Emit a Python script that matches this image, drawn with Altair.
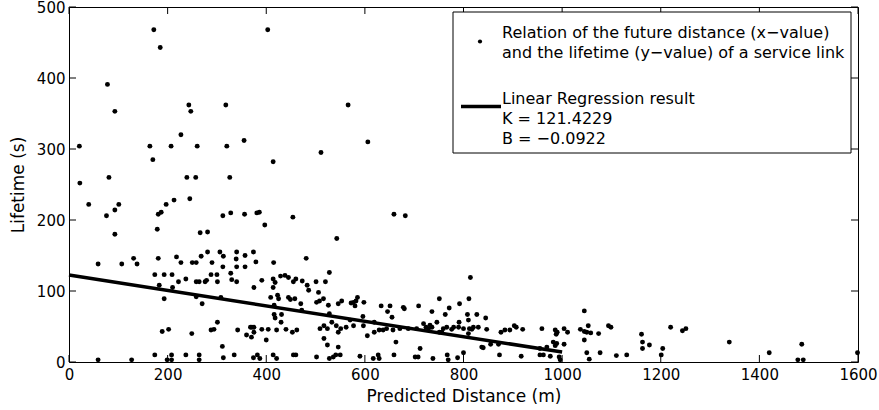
import altair as alt
import pandas as pd

# ---------------- data ----------------
# upper scatter (lifetime > 160 s)
dist_upper = [172,185,403,78,93,243,247,318,566,227,355,606,21,164,207,260,320,511,170,414,
              81,239,257,326,22,40,76,93,101,93,179,181,187,197,213,245,312,328,356,381,
              386,397,454,543,659,682,266,281]
life_upper = [468,443,468,391,353,362,353,362,362,320,312,310,304,304,304,304,304,295,285,282,
              260,260,260,260,252,222,206,214,222,180,187,208,211,222,228,230,206,210,208,210,
              211,193,204,174,208,206,182,183]

# 100 - 160 s band
dist_mid = [59,107,131,138,181,218,227,250,258,268,281,290,306,313,312,340,339,340,357,357,
            374,379,415,481,328,330,340,174,193,209,300,288,183,193,210,222,237,258,264,276,
            301,258,270,308,375,528,391,414,418,414,429,438,445,455,460,473,483,486,501,506,
            520,279,814]
life_mid = [138,138,146,138,146,148,140,140,140,149,155,140,155,149,134,155,145,134,150,134,
            155,141,140,146,125,116,113,123,123,123,123,123,108,89,105,113,117,113,113,113,
            113,92,82,91,105,126,115,117,112,105,121,122,119,113,117,114,108,101,113,98,
            113,115,119]

# 55 - 100 s band
dist_low = [423,409,445,449,458,470,502,508,516,526,546,553,572,582,598,585,416,425,577,580,
            633,646,651,655,678,680,709,736,751,763,771,792,811,808,827,845,810,791,472,528]
life_low = [94,91,91,88,89,82,84,86,89,80,82,86,83,86,84,91,80,89,84,79,
            79,71,79,63,77,75,79,71,89,67,76,82,89,67,67,62,59,56,73,68]

# 15 - 70 s band below 1000 m
dist_band = [416,418,431,430,440,453,462,371,375,391,400,404,533,517,524,542,546,551,562,577,
             597,605,619,629,637,644,657,663,671,688,705,719,729,736,746,751,759,766,517,524,
             546,712,189,202,249,288,294,301,311,342,360,368,370,375,421,509,570,596,619,724,
             732,776,820,871,780,790,800,812,817,830,847,810,756,837,840,855,876,884,894,903,
             907,920,959,986,990,988,955,969,982,986,989]
life_band = [67,62,67,56,46,42,45,49,42,46,31,46,56,51,47,51,42,47,49,51,
             51,37,42,45,45,47,45,28,47,47,47,54,47,49,56,42,47,49,33,24,
             21,19,43,46,40,45,46,56,22,45,38,49,35,49,45,47,59,64,56,49,
             52,46,49,25,49,49,47,47,46,49,46,40,42,21,20,25,42,45,45,51,
             49,46,47,45,42,39,19,21,28,23,26]

# beyond 1000 m
dist_far = [1004,1011,1004,1037,1045,1053,1050,1058,1045,1074,1045,1094,1099,1161,1163,1163,
            1177,1204,1220,1244,1251,1339,1486]
life_far = [47,42,25,46,43,51,42,41,72,40,31,51,49,39,28,19,24,19,49,44,47,28,25]

# near-zero lifetimes
dist_zero = [59,127,174,199,208,208,237,264,264,313,335,374,382,387,414,421,455,460,502,528,
             536,541,550,590,617,627,629,659,702,708,738,767,769,788,800,873,917,955,962,976,
             994,996,1050,1055,1077,1110,1131,1201,1420,1478,1489,1599]
life_zero = [3,3,10,3,10,3,10,10,3,6,10,6,10,5,10,5,10,10,7,5,
             7,10,10,8,5,10,5,10,7,7,5,10,3,6,13,10,8,10,10,8,
             7,3,13,4,13,9,10,10,13,3,3,13]

# regression line as drawn
reg_distance = [0, 1000]
reg_lifetime = [122.5, 14]

x_ticks = [0, 200, 400, 600, 800, 1000, 1200, 1400, 1600]
y_ticks = [0, 100, 200, 300, 400, 500]

legend_point_lines = ["Relation of the future distance (x\u2212value)",
                      "and the lifetime (y\u2212value) of a service link"]
legend_line_lines = ["Linear Regression result", "K = 121.4229", "B = \u22120.0922"]

# ---------------- chart ----------------
W, H = 789, 355
TOP = 7
FONT = "DejaVu Sans"

distance = dist_upper + dist_mid + dist_low + dist_band + dist_far + dist_zero
lifetime = life_upper + life_mid + life_low + life_band + life_far + life_zero
pts = pd.DataFrame({"d": distance, "v": lifetime})
reg = pd.DataFrame({"d": reg_distance, "v": reg_lifetime})
tx = pd.DataFrame({"d": x_ticks})
ty = pd.DataFrame({"v": y_ticks})
one = pd.DataFrame({"k": [0]})

xs = alt.Scale(domain=[0, 1600], nice=False, zero=False)
ys = alt.Scale(domain=[0, 500], nice=False, zero=False)

x_axis = alt.Axis(values=x_ticks, title="Predicted Distance (m)", ticks=False, domain=False,
                  grid=False, labelFlush=False, labelOverlap=False, format="d",
                  labelPadding=5, titleY=34, titleBaseline="middle")
y_axis = alt.Axis(values=y_ticks, title="Lifetime (s)", ticks=False, domain=False,
                  grid=False, labelFlush=False, labelOverlap=False, format="d",
                  labelPadding=4, titleX=-51, titleBaseline="middle")

points = alt.Chart(pts).mark_circle(size=24, color="black", opacity=1).encode(
    x=alt.X("d:Q", scale=xs, axis=x_axis),
    y=alt.Y("v:Q", scale=ys, axis=y_axis),
)

line = alt.Chart(reg).mark_line(color="black", strokeWidth=3.5).encode(
    x=alt.X("d:Q", scale=xs, axis=x_axis),
    y=alt.Y("v:Q", scale=ys, axis=y_axis),
)

TL = 7
tick_style = dict(color="black", strokeWidth=1)
xt_bottom = alt.Chart(tx).mark_rule(**tick_style).encode(
    x=alt.X("d:Q", scale=xs, axis=x_axis), y=alt.value(H), y2=alt.value(H - TL))
xt_top = alt.Chart(tx).mark_rule(**tick_style).encode(
    x=alt.X("d:Q", scale=xs, axis=x_axis), y=alt.value(0), y2=alt.value(TL))
yt_left = alt.Chart(ty).mark_rule(**tick_style).encode(
    y=alt.Y("v:Q", scale=ys, axis=y_axis), x=alt.value(0), x2=alt.value(TL))
yt_right = alt.Chart(ty).mark_rule(**tick_style).encode(
    y=alt.Y("v:Q", scale=ys, axis=y_axis), x=alt.value(W), x2=alt.value(W - TL))

# legend box
leg_box = alt.Chart(one).mark_rect(fill="white", stroke="black", strokeWidth=1).encode(
    x=alt.value(384), x2=alt.value(782), y=alt.value(5), y2=alt.value(146))
leg_dot = alt.Chart(one).mark_circle(size=18, color="black", opacity=1).encode(
    x=alt.value(411), y=alt.value(34.5))
leg_line = alt.Chart(one).mark_rule(color="black", strokeWidth=3.5).encode(
    x=alt.value(392), x2=alt.value(432), y=alt.value(99.5))

text_style = dict(font=FONT, fontSize=16, align="left", baseline="alphabetic", color="black")
leg_texts = []
for txt, yy in zip(legend_point_lines + legend_line_lines, [30.5, 51, 97, 117, 137]):
    leg_texts.append(
        alt.Chart(one).mark_text(**text_style).encode(
            x=alt.value(433), y=alt.value(yy), text=alt.value(txt)))

chart = alt.layer(points, line, xt_bottom, xt_top, yt_left, yt_right,
                  leg_box, leg_dot, leg_line, *leg_texts).properties(
    width=W, height=H,
    autosize=alt.AutoSizeParams(type="none"),
    padding={"left": 69, "top": TOP, "right": 21, "bottom": 48},
    background="white",
).configure_view(stroke="black", strokeWidth=1).configure_axis(
    labelFont=FONT, labelFontSize=15, labelColor="black",
    titleFont=FONT, titleFontSize=17, titleFontWeight="normal", titleColor="black",
)

chart.save("out.html", embed_options={"renderer": "svg", "actions": False})
